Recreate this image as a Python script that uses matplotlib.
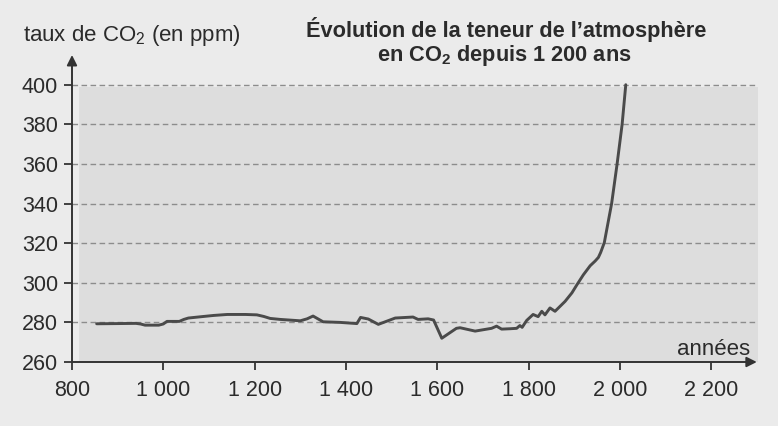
import matplotlib
matplotlib.use('Agg')
import matplotlib.pyplot as plt
from matplotlib.patches import Rectangle

# ---- data ----
years = [854, 900, 940, 950, 960, 990, 1000, 1008, 1035, 1045, 1055, 1080, 1110,
         1140, 1180, 1205, 1220, 1234, 1256, 1300, 1315, 1328, 1350, 1387, 1424,
         1432, 1449, 1471, 1508, 1547, 1558, 1580, 1592, 1610, 1642, 1650, 1683,
         1719, 1730, 1741, 1760, 1774, 1781, 1786, 1796, 1810, 1821, 1829, 1836,
         1847, 1858, 1869, 1880, 1895, 1906, 1920, 1935, 1946, 1953, 1958, 1966,
         1982, 1994, 2005, 2013]
co2 = [279.3, 279.4, 279.5, 279.2, 278.6, 278.6, 279.2, 280.5, 280.5, 281.5, 282.2,
       282.8, 283.5, 284.0, 284.0, 283.8, 283.0, 282.0, 281.5, 280.8, 281.8, 283.2,
       280.3, 280.0, 279.4, 282.5, 281.7, 279.0, 282.2, 282.7, 281.5, 281.8, 281.2,
       272.0, 277.0, 277.3, 275.6, 277.0, 278.1, 276.6, 276.8, 277.0, 278.4, 277.5,
       281.0, 284.0, 282.9, 285.6, 283.8, 287.3, 285.6, 288.1, 290.6, 294.9, 299.0,
       304.0, 308.6, 311.0, 312.8, 315.3, 320.3, 340.0, 360.0, 380.0, 400.0]

y_ticks = [260, 280, 300, 320, 340, 360, 380, 400]
x_ticks = [800, 1000, 1200, 1400, 1600, 1800, 2000, 2200]
x_tick_labels = ['800', '1 000', '1 200', '1 400', '1 600', '1 800', '2 000', '2 200']
grid_levels = [280, 300, 320, 340, 360, 380, 400]

plt.rcParams['font.family'] = ['Liberation Sans', 'DejaVu Sans']
plt.rcParams['mathtext.fontset'] = 'custom'
plt.rcParams['mathtext.rm'] = 'Liberation Sans'
plt.rcParams['mathtext.it'] = 'Liberation Sans:italic'
plt.rcParams['mathtext.bf'] = 'Liberation Sans:bold'

W, H = 778, 426
fig = plt.figure(figsize=(W / 100, H / 100), dpi=100)
fig.patch.set_facecolor('#ebebeb')

ax = fig.add_axes([72 / W, 1 - 362 / H, (760 - 72) / W, (362 - 55) / H])
ax.set_xlim(800, 2307)
ax.set_ylim(260, 415)
ax.patch.set_alpha(0)
for s in ax.spines.values():
    s.set_visible(False)

txt = '#2b2b2b'
axc = '#333333'

# shaded plot area
ax.add_patch(Rectangle((815, 260), 2303 - 815, 139, facecolor='#dddddd',
                       edgecolor='none', zorder=0))
# dashed grid
for g in grid_levels:
    ax.plot([800, 2303], [g, g], ls=(0, (4, 2.5)), color='#8c8c8c', lw=1.0, zorder=1)

# curve
ax.plot(years, co2, color='#4a4a4a', lw=2.1, zorder=3,
        solid_joinstyle='round', solid_capstyle='round')

# axes with arrows
ax.annotate('', xy=(2300, 260), xytext=(800, 260),
            arrowprops=dict(arrowstyle='-|>', color=axc, lw=1.4, mutation_scale=15,
                            shrinkA=0, shrinkB=0), annotation_clip=False, zorder=4)
ax.annotate('', xy=(800, 415), xytext=(800, 260),
            arrowprops=dict(arrowstyle='-|>', color=axc, lw=1.4, mutation_scale=15,
                            shrinkA=0, shrinkB=0), annotation_clip=False, zorder=4)

ax.set_yticks(y_ticks)
ax.set_yticklabels([str(v) for v in y_ticks])
ax.set_xticks(x_ticks)
ax.set_xticklabels(x_tick_labels)
ax.tick_params(axis='both', direction='out', length=6, width=1.3, color=axc,
               labelsize=15.5, labelcolor=txt)
ax.tick_params(axis='y', pad=4)
ax.tick_params(axis='x', pad=7)

# texts
fig.text(23 / W, 1 - 41 / H, 'taux de CO$_2$ (en ppm)', fontsize=16, color=txt,
         ha='left', va='baseline')
fig.text(506 / W, 1 - 37 / H, 'Évolution de la teneur de l’atmosphère',
         fontsize=15.7, fontweight='bold', color=txt, ha='center', va='baseline')
fig.text(504 / W, 1 - 61 / H, 'en CO$_\\mathbf{2}$ depuis 1 200 ans',
         fontsize=15.7, fontweight='bold', color=txt, ha='center', va='baseline')
fig.text(750 / W, 1 - 355 / H, 'années', fontsize=16, color=txt,
         ha='right', va='baseline')

fig.savefig('out.png', dpi=100, facecolor=fig.get_facecolor())
